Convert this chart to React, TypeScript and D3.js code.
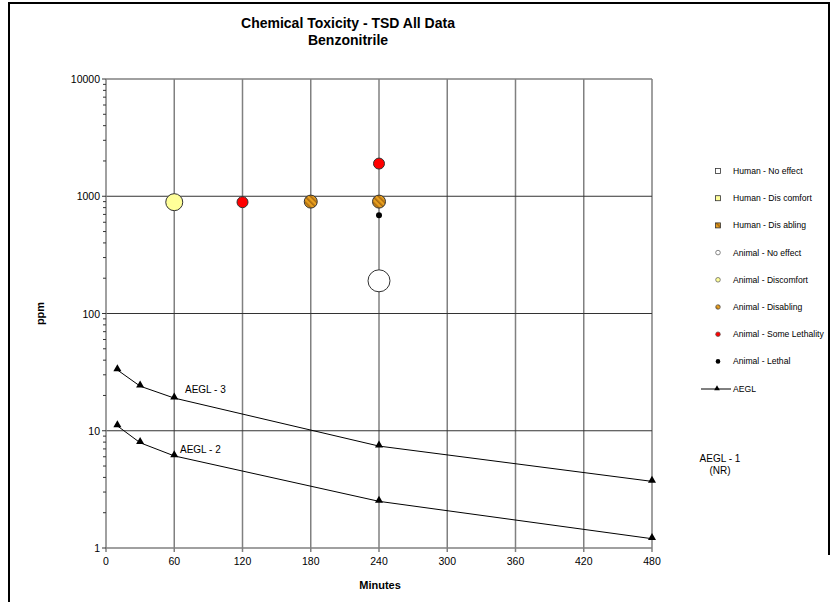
import React from 'react';
import * as d3 from 'd3';

// time ticks (minutes) and ppm decades
const xTicks = [0, 60, 120, 180, 240, 300, 360, 420, 480];
const yTicks = [1, 10, 100, 1000, 10000];

// AEGL curves
const aeglMinutes = [10, 30, 60, 240, 480];
const aegl3 = [33, 24, 19, 7.4, 3.7];
const aegl2 = [11, 7.9, 6.1, 2.5, 1.2];

// toxicity observations
const pointMinutes = [60, 120, 180, 240, 240, 240, 240];
const pointPpm = [890, 890, 900, 1900, 900, 690, 190];
const pointCategory = [
  'Animal - Discomfort',
  'Animal - Some Lethality',
  'Animal - Disabling',
  'Animal - Some Lethality',
  'Animal - Disabling',
  'Animal - Lethal',
  'Animal - No effect',
];
const pointRadius = [8.5, 5.5, 6.5, 5.5, 6.5, 3, 11];

const legendLabels = [
  'Human - No effect',
  'Human - Dis comfort',
  'Human - Dis abling',
  'Animal - No effect',
  'Animal - Discomfort',
  'Animal - Disabling',
  'Animal - Some Lethality',
  'Animal - Lethal',
];
const legendShapes = ['square', 'square', 'square', 'circle', 'circle', 'circle', 'circle', 'circle'];
const legendFills = ['#ffffff', '#ffff99', 'url(#hatch)', '#ffffff', '#ffff99', 'url(#hatch)', '#ff0000', '#000000'];

const fillFor = (cat: string) => {
  if (cat.endsWith('No effect')) return '#ffffff';
  if (cat.endsWith('Discomfort')) return '#ffff99';
  if (cat.endsWith('Disabling')) return 'url(#hatch)';
  if (cat.endsWith('Some Lethality')) return '#ff0000';
  return '#000000';
};

const FONT = 'Liberation Sans, Arial, sans-serif';

export default function App() {
  const width = 835;
  const height = 602;
  const x = d3.scaleLinear().domain([0, 480]).range([106, 652]);
  const y = d3.scaleLog().domain([1, 10000]).range([548, 79]);

  const minorY: number[] = [];
  for (let d = 1; d < 10000; d *= 10) {
    for (let k = 2; k <= 9; k++) minorY.push(d * k);
  }

  const line = d3.line<number>()
    .x((_, i) => x(aeglMinutes[i]))
    .y((d) => y(d));

  const tri = d3.symbol().type(d3.symbolTriangle).size(28)();

  return (
    <svg width={width} height={height} style={{ position: 'absolute', left: 0, top: 0 }}>
      <defs>
        <pattern id="hatch" patternUnits="userSpaceOnUse" width="4" height="4" patternTransform="rotate(-45)">
          <rect width="4" height="4" fill="#e8a020" />
          <rect width="1.6" height="4" fill="#a86a10" />
        </pattern>
      </defs>
      <rect width={width} height={height} fill="#ffffff" />
      {/* outer frame */}
      <path d="M9,602 V3 H829 V555" fill="none" stroke="#000" strokeWidth={2} />

      {/* title */}
      <text x={348} y={28} textAnchor="middle" fontFamily={FONT} fontWeight="bold" fontSize={14}>
        Chemical Toxicity - TSD All Data
      </text>
      <text x={348} y={45} textAnchor="middle" fontFamily={FONT} fontWeight="bold" fontSize={14}>
        Benzonitrile
      </text>

      {/* gridlines */}
      {xTicks.slice(1).map((t) => (
        <line key={'vx' + t} x1={x(t)} x2={x(t)} y1={y(10000)} y2={y(1) + 4} stroke="#808080" strokeWidth={1.5} />
      ))}
      {yTicks.slice(1, 4).map((t) => (
        <line key={'hy' + t} x1={x(0)} x2={x(480)} y1={y(t)} y2={y(t)} stroke="#333" strokeWidth={1} />
      ))}
      <line x1={x(0)} x2={x(480)} y1={y(10000)} y2={y(10000)} stroke="#808080" strokeWidth={1.5} />

      {/* axes */}
      <line x1={x(0)} x2={x(0)} y1={y(10000)} y2={y(1)} stroke="#808080" strokeWidth={1.5} />
      <line x1={x(0)} x2={x(480)} y1={y(1)} y2={y(1)} stroke="#808080" strokeWidth={1.5} />
      <line x1={x(0)} x2={x(0)} y1={y(1)} y2={y(1) + 4} stroke="#808080" strokeWidth={1.5} />
      {yTicks.map((t) => (
        <g key={'yt' + t}>
          <line x1={x(0) - 4} x2={x(0)} y1={y(t)} y2={y(t)} stroke="#333" />
          <text x={x(0) - 6} y={y(t) + 4} textAnchor="end" fontFamily={FONT} fontSize={10.5}>
            {t}
          </text>
        </g>
      ))}
      {minorY.map((t) => (
        <line key={'my' + t} x1={x(0) - 3} x2={x(0)} y1={y(t)} y2={y(t)} stroke="#333" />
      ))}
      {xTicks.map((t) => (
        <text key={'xt' + t} x={x(t)} y={y(1) + 17} textAnchor="middle" fontFamily={FONT} fontSize={10.5}>
          {t}
        </text>
      ))}
      <text x={380} y={589} textAnchor="middle" fontFamily={FONT} fontWeight="bold" fontSize={11}>
        Minutes
      </text>
      <text transform={`translate(44,${y(100)}) rotate(-90)`} textAnchor="middle" fontFamily={FONT} fontWeight="bold" fontSize={11}>
        ppm
      </text>

      {/* AEGL lines */}
      {[aegl3, aegl2].map((s, si) => (
        <g key={'aegl' + si}>
          <path d={line(s) || ''} fill="none" stroke="#000" strokeWidth={1} />
          {s.map((v, i) => (
            <path key={i} d={tri || ''} transform={`translate(${x(aeglMinutes[i])},${y(v) - 1})`} fill="#000" />
          ))}
        </g>
      ))}
      <text x={185} y={393} fontFamily={FONT} fontSize={10}>AEGL - 3</text>
      <text x={180} y={453} fontFamily={FONT} fontSize={10}>AEGL - 2</text>
      <text x={720} y={462} textAnchor="middle" fontFamily={FONT} fontSize={10}>AEGL - 1</text>
      <text x={720} y={474} textAnchor="middle" fontFamily={FONT} fontSize={10}>(NR)</text>

      {/* observations */}
      {pointMinutes.map((m, i) => (
        <circle
          key={'pt' + i}
          cx={x(m)}
          cy={y(pointPpm[i])}
          r={pointRadius[i]}
          fill={fillFor(pointCategory[i])}
          stroke={pointCategory[i].endsWith('Lethal') ? 'none' : '#333'}
          strokeWidth={1}
        />
      ))}

      {/* legend */}
      {legendLabels.map((lab, i) => {
        const ly = 171 + i * 27.2;
        return (
          <g key={'lg' + i}>
            {legendShapes[i] === 'square' ? (
              <rect x={715.5} y={ly - 2.5} width={5} height={5} fill={legendFills[i]} stroke="#333" strokeWidth={0.8} />
            ) : (
              <circle cx={718} cy={ly} r={2.3} fill={legendFills[i]} stroke={i === 7 ? 'none' : '#555'} strokeWidth={0.7} />
            )}
            <text x={733} y={ly + 3} fontFamily={FONT} fontSize={8.6} fill="#000">{lab}</text>
          </g>
        );
      })}
      <line x1={701} x2={731} y1={389} y2={389} stroke="#000" />
      <path d={d3.symbol().type(d3.symbolTriangle).size(14)() || ''} transform="translate(717,388.5)" fill="#000" />
      <text x={733} y={392} fontFamily={FONT} fontSize={8.6} fill="#000">AEGL</text>
    </svg>
  );
}
